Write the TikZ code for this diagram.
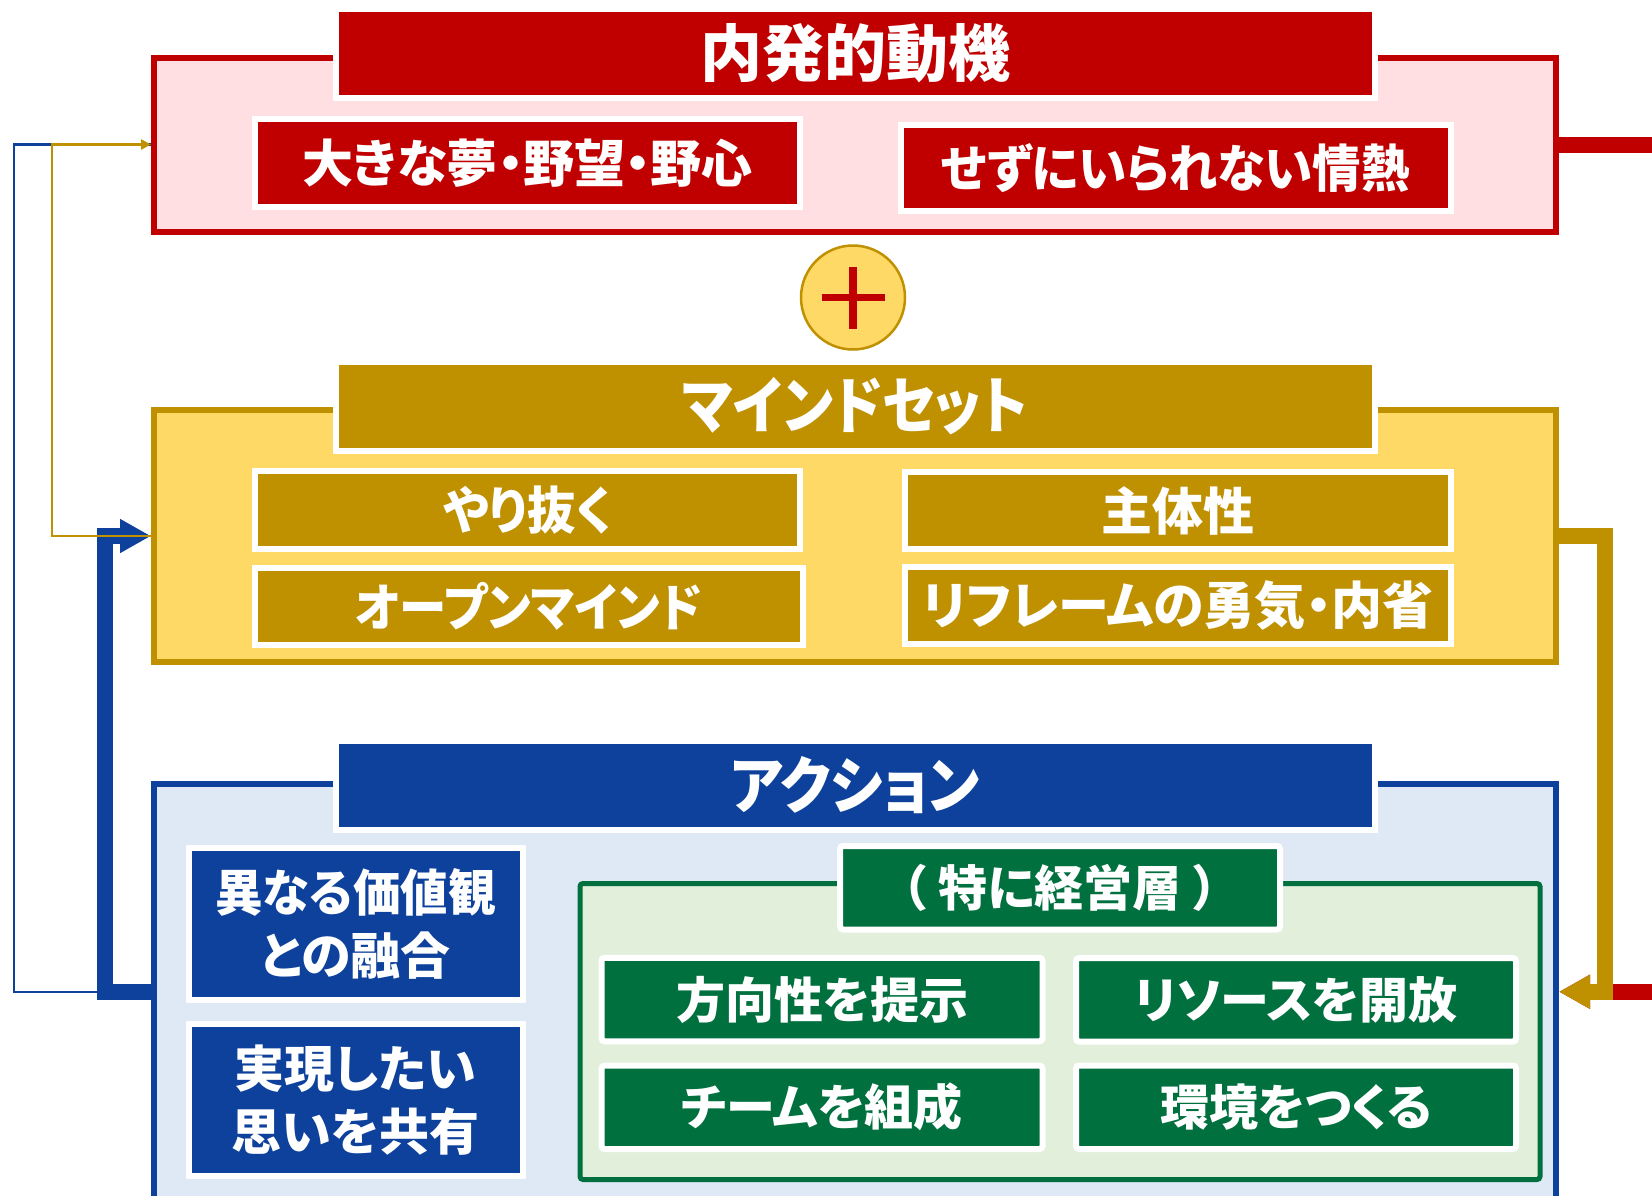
\documentclass[tikz,border=0pt]{standalone}
\usepackage{fontspec}
\setmainfont{Noto Sans CJK JP}[RawFeature=+palt]
\newfontfamily\jpfull{Noto Sans CJK JP}
\usetikzlibrary{arrows.meta}
\definecolor{cRed}{HTML}{C00000}
\definecolor{cPink}{HTML}{FFDFE2}
\definecolor{cGold}{HTML}{BF9000}
\definecolor{cYel}{HTML}{FFD966}
\definecolor{cBlue}{HTML}{0D419B}
\definecolor{cLBlue}{HTML}{DEE9F5}
\definecolor{cGreen}{HTML}{00703F}
\definecolor{cLGreen}{HTML}{E2EFDA}
\newcommand{\sqz}[2]{\scalebox{#1}[1]{#2}}
\begin{document}
\begin{tikzpicture}[x=1pt,y=-1pt,
  cont/.style={rectangle, draw, line width=6pt, inner sep=0pt, minimum width=1402pt},
  banner/.style={rectangle, draw=white, line width=6pt, inner sep=0pt, text=white,
     minimum width=1039pt, minimum height=89pt, font=\bfseries\fontsize{62}{70}\selectfont},
  subbox/.style={rectangle, draw=white, line width=6pt, inner sep=0pt, text=white,
     font=\bfseries\fontsize{51}{60}\selectfont},
  gbox/.style={subbox, fill=cGreen, rounded corners=3pt, font=\bfseries\fontsize{49}{60}\selectfont},
  bbox/.style={subbox, fill=cBlue, align=center, minimum width=334pt, minimum height=151.5pt,
     font=\bfseries\fontsize{50}{63}\selectfont},
  thick/.style={line width=16pt},
  thin/.style={line width=2.5pt},
  bigtip/.style={-{Triangle[length=31pt,width=32pt]}},
  smalltip/.style={-{Triangle[length=10pt,width=10pt]}}
]
\useasboundingbox (0,0) rectangle (1652,1195);
\clip (0,0) rectangle (1652,1195);

% containers
\node[cont, draw=cRed, fill=cPink, minimum height=174pt] (red) at (855,144.5) {};
\node[cont, draw=cGold, fill=cYel, minimum height=252pt] (yellow) at (855,536) {};
\node[cont, draw=cBlue, fill=cLBlue, minimum height=416.5pt] (blue) at (855,991.75) {};
\node[rectangle, draw=cGreen, fill=cLGreen, line width=5pt, rounded corners=3pt, inner sep=0pt,
      minimum width=960pt, minimum height=296pt] (green) at (1060,1031.5) {};

% banners
\node[banner, fill=cRed] (tred) at (855,53) {\raisebox{-2pt}{内発的動機}};
\node[banner, fill=cGold] (tyel) at (855,406.5) {\raisebox{-3pt}{\sqz{0.89}{マインドセット}}};
\node[banner, fill=cBlue] (tblue) at (855,785) {\raisebox{-2pt}{\sqz{0.91}{アクション}}};

% red sub boxes
\node[subbox, fill=cRed, minimum width=545pt, minimum height=88pt] (r1) at (527.5,163) {\raisebox{-2pt}{大きな夢・野望・野心}};
\node[subbox, fill=cRed, minimum width=550.5pt, minimum height=86pt] (r2) at (1175.75,168) {\raisebox{-2pt}{\sqz{0.95}{せずにいられない情熱}}};

% plus
\node[circle, draw=cGold, fill=cYel, line width=2.5pt, minimum size=104pt, inner sep=0pt] (plus) at (853,297.5) {};
\draw[cRed, line width=7.5pt] ([xshift=-31.5pt]plus.center) -- ([xshift=31.5pt]plus.center);
\draw[cRed, line width=7.5pt] ([yshift=-31pt]plus.center) -- ([yshift=31pt]plus.center);

% yellow sub boxes
\node[subbox, fill=cGold, minimum width=545pt, minimum height=78pt] (y1) at (527.5,510) {\sqz{0.95}{やり抜く}};
\node[subbox, fill=cGold, minimum width=547.5pt, minimum height=77pt] (y2) at (528.75,606.5) {\sqz{0.93}{オープンマインド}};
\node[subbox, fill=cGold, minimum width=546pt, minimum height=77pt] (y3) at (1178,510.5) {主体性};
\node[subbox, fill=cGold, minimum width=546pt, minimum height=77pt] (y4) at (1178,605.5) {リフレームの勇気・内省};

% blue sub boxes
\node[bbox] (b1) at (355.5,923.75) {\sqz{0.95}{異なる価値観}\\との融合};
\node[bbox] (b2) at (355.5,1099.75) {実現したい\\思いを共有};

% green boxes
\node[gbox, minimum width=440pt, minimum height=83.5pt] (g0) at (1060,887.75) {（\hspace{12pt}特に経営層\hspace{12pt}）};
\node[gbox, minimum width=441pt, minimum height=83.5pt] (g1) at (822,999.5) {方向性を提示};
\node[gbox, minimum width=440pt, minimum height=83.5pt] (g2) at (1296,999.75) {リソースを開放};
\node[gbox, minimum width=441pt, minimum height=83.5pt] (g3) at (822,1107.25) {チームを組成};
\node[gbox, minimum width=440pt, minimum height=83.5pt] (g4) at (1296,1107.25) {環境をつくる};

% helper coordinates for connector routes
\coordinate (rx) at (1720,0);
\coordinate (gx) at (1605,0);
\coordinate (bx) at (105,0);
\coordinate (tb) at (14,0);
\coordinate (tg) at (52,0);

% connectors
\draw[thick, cRed, bigtip] (red.east) -- (red.east -| rx) |- (blue.east);
\draw[thin, cBlue] (blue.west) -- (blue.west -| tb) |- (red.west);
\draw[thick, cBlue, bigtip] (blue.west) -- (blue.west -| bx) |- (yellow.west);
\draw[thin, cGold, smalltip] (yellow.west) -- (yellow.west -| tg) |- (red.west);
\draw[thick, cGold, bigtip] (yellow.east) -- (yellow.east -| gx) |- (blue.east);
\end{tikzpicture}
\end{document}
